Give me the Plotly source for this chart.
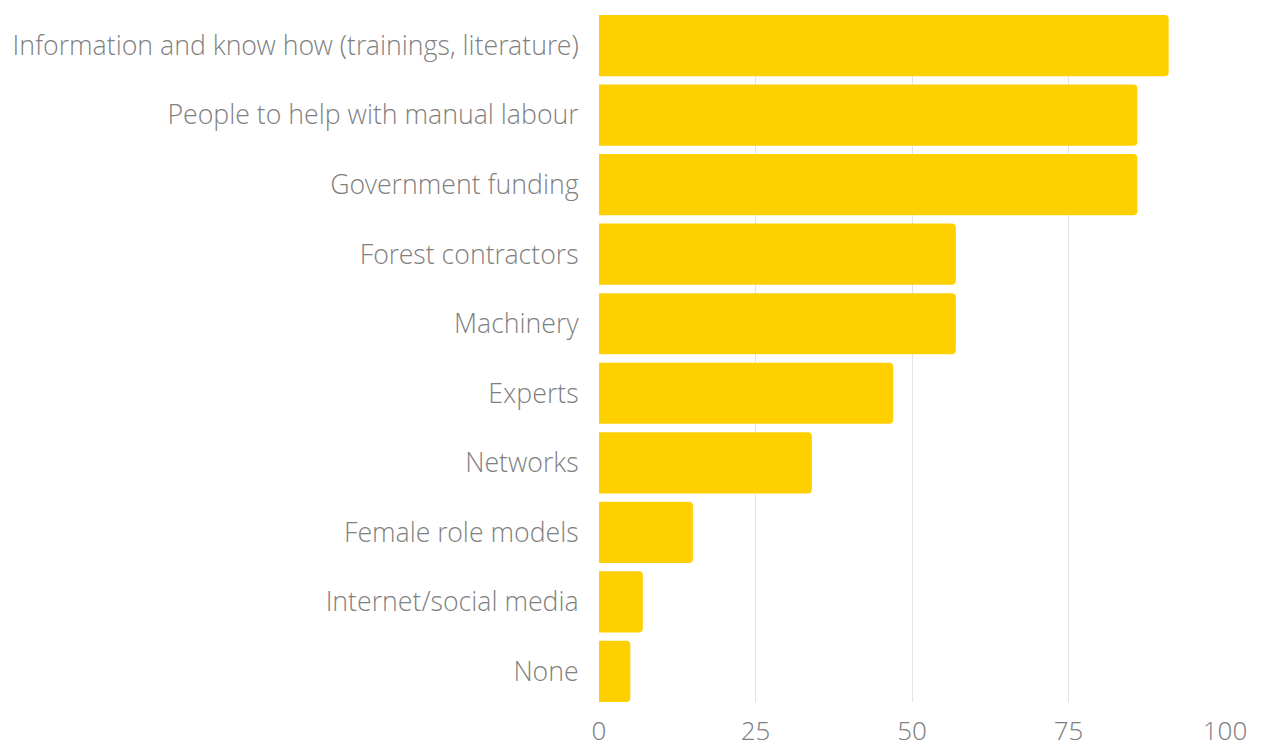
import plotly.graph_objects as go

categories = [
    "Information and know how (trainings, literature)",
    "People to help with manual labour",
    "Government funding",
    "Forest contractors",
    "Machinery",
    "Experts",
    "Networks",
    "Female role models",
    "Internet/social media",
    "None",
]
values = [91, 86, 86, 57, 57, 47, 34, 15, 7, 5]
x_ticks = [0, 25, 50, 75, 100]

BARGAP = 0.12

fig = go.Figure(go.Bar(
    x=values,
    y=categories,
    orientation="h",
    marker=dict(color="#FFD000", cornerradius=4, line=dict(width=0)),
    hoverinfo="x+y",
))

font = dict(family="Open Sans Light, Open Sans", size=26.7, color="#808080", weight=300)
xfont = dict(family="Open Sans Light, Open Sans", size=26, color="#808080", weight=300)

n = len(categories)
fig.update_layout(
    width=1261, height=749,
    margin=dict(l=599, r=36, t=15, b=47),
    paper_bgcolor="white", plot_bgcolor="white",
    bargap=BARGAP,
    showlegend=False,
    font=font,
    xaxis=dict(
        range=[0, 100], tickvals=x_ticks, showgrid=True, gridcolor="#e3e3e3", gridwidth=1,
        zeroline=False, showline=False, ticks="outside", ticklen=6,
        tickcolor="rgba(0,0,0,0)", tickfont=xfont, automargin=False, fixedrange=True,
    ),
    yaxis=dict(
        categoryorder="array", categoryarray=categories,
        range=[n - 0.5 - BARGAP / 2, -0.5 + BARGAP / 2],
        showgrid=False, zeroline=False, showline=False, ticks="outside", ticklen=14,
        tickcolor="rgba(0,0,0,0)", tickfont=font, automargin=False, fixedrange=True,
    ),
)

fig.write_html(
    "out.html",
    config={"displayModeBar": False},
    post_script="document.body.style.margin='0';document.body.style.padding='0';",
)
